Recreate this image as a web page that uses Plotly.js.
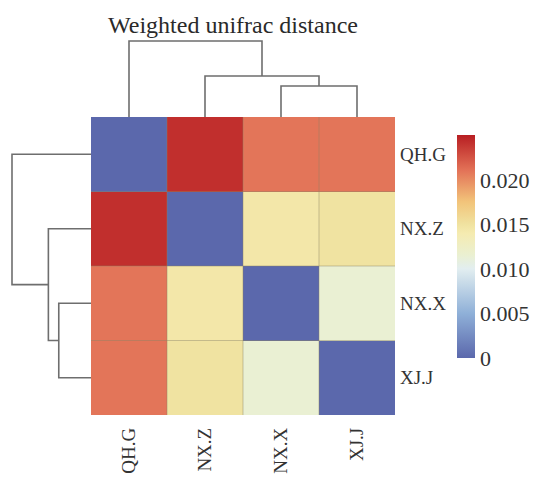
<!DOCTYPE html>
<html>
<head>
<meta charset="utf-8">
<script src="https://cdn.plot.ly/plotly-3.0.1.min.js"></script>
<style>html,body{margin:0;padding:0;background:#fff;}#chart{width:538px;height:477px;}</style>
</head>
<body>
<div id="chart"></div>
<script>
// ---- data ----
var samples = ['QH.G', 'NX.Z', 'NX.X', 'XJ.J'];
var rowQHG = [0, 0.0243, 0.0210, 0.0210];
var rowNXZ = [0.0243, 0, 0.0145, 0.0150];
var rowNXX = [0.0210, 0.0145, 0, 0.0115];
var rowXJJ = [0.0210, 0.0150, 0.0115, 0];
var distMatrix = [rowQHG, rowNXZ, rowNXX, rowXJJ];
// dendrogram merges: [left member, right member, height]; members are leaf indices or 'mK' (K-th merge)
var merges = [[2, 3, 0.31], ['m0', 1, 0.41], [0, 'm1', 0.76]];
var cbTickVals = [0, 0.005, 0.010, 0.015, 0.020];
var cbTickText = ['0', '0.005', '0.010', '0.015', '0.020'];
var zMax = 0.0251;

// ---- helpers ----
function dendroSegments(merges, horizontal) {
  var pos = {}, hgt = {};
  var xs = [], ys = [];
  function p(m) { return typeof m === 'number' ? m : pos[m]; }
  function h(m) { return typeof m === 'number' ? 0 : hgt[m]; }
  merges.forEach(function (mg, k) {
    var a = mg[0], b = mg[1], H = mg[2];
    var pa = p(a), pb = p(b), ha = h(a), hb = h(b);
    var path = [[pa, ha], [pa, H], [pb, H], [pb, hb]];
    path.forEach(function (pt) {
      if (horizontal) { xs.push(pt[1]); ys.push(pt[0]); }
      else { xs.push(pt[0]); ys.push(pt[1]); }
    });
    xs.push(null); ys.push(null);
    pos['m' + k] = (pa + pb) / 2; hgt['m' + k] = H;
  });
  return {x: xs, y: ys};
}

var W = 538, Hh = 477;
function fx(px) { return px / W; }
function fy(py) { return 1 - py / Hh; }

var idx = samples.map(function (s, i) { return i; });

var heat = {
  type: 'heatmap', z: distMatrix, x: idx, y: idx,
  xaxis: 'x', yaxis: 'y',
  zmin: 0, zmax: zMax,
  colorscale: [
    [0, '#5b68ac'], [0.2, '#8fb0d8'], [0.4, '#e2eef0'], [0.46, '#eaf0d2'],
    [0.56, '#f5ebb0'], [0.6, '#f0e2a0'], [0.7, '#f2c47a'], [0.84, '#e37358'], [1, '#b81e22']
  ],
  colorbar: {
    x: fx(457), xanchor: 'left', y: fy(135), yanchor: 'top',
    len: 223, lenmode: 'pixels', thickness: 18, thicknessmode: 'pixels',
    xpad: 0, ypad: 0, outlinewidth: 0, ticks: '',
    tickvals: cbTickVals, ticktext: cbTickText,
    tickfont: {family: 'Liberation Serif', size: 22, color: '#333'}
  },
  hoverinfo: 'z'
};

var topDen = dendroSegments(merges, false);
var leftDen = dendroSegments(merges, true);
var lineStyle = {color: '#6e6e6e', width: 1.6};
var topTrace = {type: 'scatter', mode: 'lines', x: topDen.x, y: topDen.y, xaxis: 'x', yaxis: 'y2', line: lineStyle, hoverinfo: 'skip', showlegend: false, connectgaps: false};
var leftTrace = {type: 'scatter', mode: 'lines', x: leftDen.x, y: leftDen.y, xaxis: 'x3', yaxis: 'y', line: lineStyle, hoverinfo: 'skip', showlegend: false, connectgaps: false};

var shapes = [];
for (var i = 0; i < samples.length - 1; i++) {
  shapes.push({type: 'line', xref: 'x', yref: 'y', x0: i + 0.5, x1: i + 0.5, y0: -0.5, y1: samples.length - 0.5, line: {color: 'rgba(140,130,100,0.45)', width: 1}});
  shapes.push({type: 'line', xref: 'x', yref: 'y', y0: i + 0.5, y1: i + 0.5, x0: -0.5, x1: samples.length - 0.5, line: {color: 'rgba(140,130,100,0.45)', width: 1}});
}

var labFont = {family: 'Liberation Serif', size: 19, color: '#333'};
var layout = {
  width: W, height: Hh,
  margin: {l: 0, r: 0, t: 0, b: 0},
  paper_bgcolor: '#ffffff', plot_bgcolor: 'rgba(0,0,0,0)',
  showlegend: false,
  title: {text: 'Weighted unifrac distance', x: fx(233), xanchor: 'center', y: fy(25), yanchor: 'middle',
          font: {family: 'Liberation Serif', size: 24, color: '#2a2a2a'}},
  xaxis: {domain: [fx(91), fx(395)], range: [-0.5, samples.length - 0.5], tickvals: idx, ticktext: samples,
          tickangle: -90, ticks: '', showgrid: false, zeroline: false, showline: false, side: 'bottom',
          ticklabelstandoff: 8, tickfont: labFont, anchor: 'y', fixedrange: true},
  yaxis: {domain: [fy(415), fy(117)], range: [samples.length - 0.5, -0.5], tickvals: idx, ticktext: samples,
          side: 'right', ticks: '', showgrid: false, zeroline: false, showline: false,
          ticklabelstandoff: 4, tickfont: labFont, anchor: 'x', fixedrange: true},
  yaxis2: {domain: [fy(117), fy(37)], range: [0, 0.80], anchor: 'x', visible: false, fixedrange: true},
  xaxis3: {domain: [0, fx(91)], range: [0.8754, 0], anchor: 'y', visible: false, fixedrange: true},
  shapes: shapes
};

Plotly.newPlot('chart', [heat, topTrace, leftTrace], layout, {displayModeBar: false, staticPlot: true});
</script>
</body>
</html>
